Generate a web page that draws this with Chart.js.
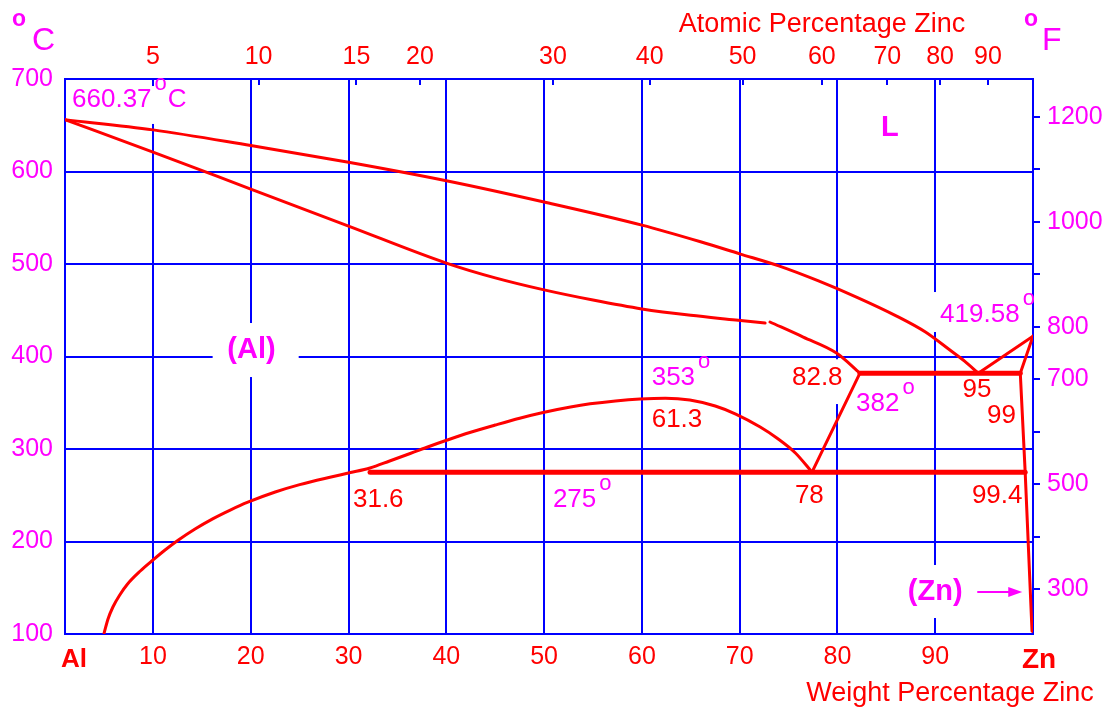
<!DOCTYPE html>
<html>
<head>
<meta charset="utf-8">
<title>Al-Zn phase diagram</title>
<script src="https://cdn.jsdelivr.net/npm/chart.js@4.4.1/dist/chart.umd.min.js"></script>
<style>
    html, body { margin: 0; padding: 0; background: #fff; }
    #wrap { width: 1111px; height: 710px; position: relative; }
</style>
</head>
<body>
<div id="wrap"><canvas id="phaseChart"></canvas></div>
<script>
// Al-Zn 상태도 - x: 무게 % Zn, y: 온도 (°C)

const RED = '#ff0000';
const BLUE = '#0000ff';
const MAGENTA = '#ff00ff';
const FONT = '"Liberation Sans", Arial, sans-serif';

// 축 눈금
const wtTicks = [10, 20, 30, 40, 50, 60, 70, 80, 90];
const tempTicks = [100, 200, 300, 400, 500, 600, 700];
const atomicLabels = ['5', '10', '15', '20', '30', '40', '50', '60', '70', '80', '90'];
const atomicAtWt = [10.0, 20.8, 30.8, 37.3, 50.9, 60.8, 70.3, 78.4, 85.1, 90.5, 95.4];
const fahrenheitTicks = [300, 400, 500, 600, 700, 800, 900, 1000, 1100, 1200];
const fahrenheitShown = [300, 500, 700, 800, 1000, 1200];

// 상 경계선 [wt% Zn, °C]
const liquidus = [[1, 656], [10, 645], [20, 628], [30, 610], [40, 590], [50, 567], [60, 542],
    [66, 524], [70, 511], [74, 498], [78, 482], [82, 464], [86, 444], [89, 426.5], [91.5, 407],
    [93, 395], [94.4, 382]];
const solidusAl = [[1, 656], [10, 621], [20, 581], [30, 541], [40, 501], [45, 485], [50, 472],
    [55, 461], [60, 451.4], [65, 444.5], [69.6, 439.5], [72.6, 436.2]];
const solidusAlEnd = [[73.1, 437.3], [76.5, 421], [79.9, 403.8], [82.3, 382]];
const solvusAndDome = [[5.0, 101], [5.4, 116.2], [5.9, 129.2], [6.6, 142.2], [7.4, 154.1],
    [8.7, 168.1], [10, 180], [11.2, 190.5], [12.6, 201.6], [14.3, 213.5], [16.1, 224.5],
    [17.9, 234], [19.7, 242.5], [22.5, 253.5], [25, 261.5], [28.1, 269.5], [30.2, 274.5],
    [32.2, 279.5], [34.2, 287], [36.3, 295.1], [38.3, 303], [40.1, 309.7], [42.4, 317.8],
    [45, 325.9], [47.5, 333.3], [49.9, 339.5], [52.7, 345.4], [54.7, 348.8], [57.3, 352],
    [59.8, 354.1], [62.4, 355], [64.9, 353], [67.5, 346.5], [69.6, 337.8], [72.1, 323.8],
    [73.8, 311.9], [75.7, 295.7], [77.4, 275]];
const line78to828 = [[77.4, 275], [82.3, 382]];
const eutectoid275 = [[32.2, 275], [99.2, 275]];
const eutectic382 = [[82.3, 382], [98.7, 382]];
const liquidusZn = [[94.4, 382], [100, 422]];
const solidusZn = [[100, 422], [98.7, 382]];
const solvusZn = [[98.7, 382], [99.2, 275], [99.9, 103]];

// 그림 속 글자 (위치는 데이터 좌표)
const notes = [
    { text: '660.37', deg: true, after: 'C', x: 1.72, y: 677.3, color: MAGENTA },
    { text: 'L', x: 84.45, y: 647, color: MAGENTA, bold: true },
    { text: '(Al)', x: 17.6, y: 407, color: MAGENTA, bold: true },
    { text: '419.58', deg: true, x: 90.5, y: 444.9, color: MAGENTA },
    { text: '353', deg: true, x: 61.0, y: 376.8, color: MAGENTA },
    { text: '61.3', x: 61.0, y: 331.4, color: RED },
    { text: '31.6', x: 30.45, y: 244.9, color: RED },
    { text: '275', deg: true, x: 50.9, y: 244.9, color: MAGENTA },
    { text: '82.8', x: 75.35, y: 376.8, color: RED },
    { text: '382', deg: true, x: 81.9, y: 348.6, color: MAGENTA },
    { text: '95', x: 92.8, y: 363.8, color: RED },
    { text: '99', x: 95.3, y: 335.7, color: RED },
    { text: '78', x: 75.65, y: 249.2, color: RED },
    { text: '99.4', x: 93.75, y: 249.2, color: RED },
    { text: '(Zn)', x: 87.2, y: 145.4, color: MAGENTA, bold: true }
];

// 글자 뒤 흰 배경 (격자선 끊김)
const masks = [
    { x1: 1.3, x2: 14.3, y1: 692.4, y2: 651.4 },
    { x1: 16.1, x2: 24.9, y1: 436.2, y2: 377.8 },
    { x1: 89.5, x2: 99.7, y1: 469.7, y2: 426.5 },
    { x1: 74.9, x2: 81.3, y1: 397, y2: 348.6 },
    { x1: 86.7, x2: 93.8, y1: 174.6, y2: 117.3 }
];

function toPoints(pts) {
    return pts.map(([x, y]) => ({ x: x, y: y }));
}

function makeLine(pts, width, smooth) {
    return {
        data: toPoints(pts),
        borderColor: RED,
        borderWidth: width,
        pointRadius: 0,
        fill: false,
        cubicInterpolationMode: smooth ? 'monotone' : 'default',
        tension: 0,
        borderCapStyle: 'round',
        borderJoinStyle: 'round'
    };
}

function setTicks(values) {
    return function (scale) {
        scale.ticks = values.map(v => ({ value: v }));
    };
}

const notesPlugin = {
    id: 'notes',
    beforeDatasetsDraw(chart) {
        const { ctx, scales: { x, y } } = chart;
        ctx.save();
        ctx.fillStyle = '#fff';
        masks.forEach(m => {
            const left = x.getPixelForValue(m.x1);
            const right = x.getPixelForValue(m.x2);
            const top = y.getPixelForValue(m.y1);
            const bottom = y.getPixelForValue(m.y2);
            ctx.fillRect(left, top, right - left, bottom - top);
        });
        ctx.restore();
    },
    afterDatasetsDraw(chart) {
        const { ctx, scales: { x, y } } = chart;
        ctx.save();
        ctx.textBaseline = 'middle';
        ctx.textAlign = 'left';
        notes.forEach(n => {
            const px = x.getPixelForValue(n.x);
            const py = y.getPixelForValue(n.y);
            ctx.fillStyle = n.color;
            ctx.font = (n.bold ? 'bold 29px ' : '26px ') + FONT;
            ctx.fillText(n.text, px, py);
            let end = px + ctx.measureText(n.text).width;
            if (n.deg) {
                ctx.font = '22px ' + FONT;
                ctx.fillText('o', end + 3, py - 16);
                end += 3 + ctx.measureText('o').width;
            }
            if (n.after) {
                ctx.font = '26px ' + FONT;
                ctx.fillText(n.after, end + 1, py);
            }
        });

        // (Zn) 화살표
        const ay = y.getPixelForValue(145.4);
        const ax1 = x.getPixelForValue(94.3);
        const ax2 = x.getPixelForValue(98.9);
        ctx.strokeStyle = MAGENTA;
        ctx.fillStyle = MAGENTA;
        ctx.lineWidth = 2;
        ctx.beginPath();
        ctx.moveTo(ax1, ay);
        ctx.lineTo(ax2 - 10, ay);
        ctx.stroke();
        ctx.beginPath();
        ctx.moveTo(ax2, ay);
        ctx.lineTo(ax2 - 14, ay - 5);
        ctx.lineTo(ax2 - 14, ay + 5);
        ctx.closePath();
        ctx.fill();

        // 축 제목과 단위
        ctx.textBaseline = 'alphabetic';
        ctx.fillStyle = RED;
        ctx.font = '27px ' + FONT;
        ctx.textAlign = 'center';
        ctx.fillText('Atomic Percentage Zinc', 822, 32);
        ctx.fillText('Weight Percentage Zinc', 950, 701);
        ctx.font = 'bold 26px ' + FONT;
        ctx.fillText('Al', 74, 667);
        ctx.font = 'bold 28px ' + FONT;
        ctx.fillText('Zn', 1039, 668);

        ctx.fillStyle = MAGENTA;
        ctx.textAlign = 'left';
        ctx.font = 'bold 23px ' + FONT;
        ctx.fillText('o', 12, 26);
        ctx.fillText('o', 1024, 26);
        ctx.font = '32px ' + FONT;
        ctx.fillText('C', 32, 50);
        ctx.fillText('F', 1042, 50);
        ctx.restore();
    }
};

const tickFont = { family: FONT, size: 25 };

const ctx = document.getElementById('phaseChart').getContext('2d');
const phaseChart = new Chart(ctx, {
    type: 'line',
    data: {
        datasets: [
            makeLine(liquidus, 3, true),
            makeLine(solidusAl, 3, true),
            makeLine(solidusAlEnd, 3, true),
            makeLine(solvusAndDome, 3, true),
            makeLine(line78to828, 3),
            makeLine(eutectoid275, 5),
            makeLine(eutectic382, 5),
            makeLine(liquidusZn, 3),
            makeLine(solidusZn, 3),
            makeLine(solvusZn, 3)
        ]
    },
    options: {
        responsive: true,
        maintainAspectRatio: false,
        animation: false,
        layout: { padding: 0 },
        plugins: {
            legend: { display: false },
            tooltip: { enabled: false }
        },
        scales: {
            x: {
                type: 'linear',
                position: 'bottom',
                min: 1,
                max: 100,
                afterBuildTicks: setTicks(wtTicks),
                afterFit: s => { s.height = 76; },
                grid: { color: BLUE, lineWidth: 2, drawTicks: false },
                border: { color: BLUE, width: 2 },
                ticks: { color: RED, font: tickFont, padding: 8, maxRotation: 0, autoSkip: false }
            },
            x2: {
                type: 'linear',
                position: 'top',
                min: 1,
                max: 100,
                afterBuildTicks: setTicks(atomicAtWt),
                afterFit: s => { s.height = 79; },
                grid: { drawOnChartArea: false, color: BLUE, lineWidth: 2, tickLength: -6 },
                border: { color: BLUE, width: 2 },
                ticks: {
                    color: RED, font: tickFont, padding: 13, maxRotation: 0, autoSkip: false,
                    callback: (value, index) => atomicLabels[index]
                }
            },
            y: {
                type: 'linear',
                position: 'left',
                min: 100,
                max: 700,
                afterBuildTicks: setTicks(tempTicks),
                afterFit: s => { s.width = 65; },
                grid: { color: BLUE, lineWidth: 2, drawTicks: false },
                border: { color: BLUE, width: 2 },
                ticks: { color: MAGENTA, font: tickFont, padding: 12 }
            },
            y2: {
                type: 'linear',
                position: 'right',
                min: 215,
                max: 1272,
                afterBuildTicks: setTicks(fahrenheitTicks),
                afterFit: s => { s.width = 78; },
                grid: { drawOnChartArea: false, color: BLUE, lineWidth: 2, tickLength: 7 },
                border: { color: BLUE, width: 2 },
                ticks: {
                    color: MAGENTA, font: tickFont, padding: 7, autoSkip: false,
                    callback: value => fahrenheitShown.includes(value) ? String(value) : ''
                }
            }
        }
    },
    plugins: [notesPlugin]
});
</script>
</body>
</html>
